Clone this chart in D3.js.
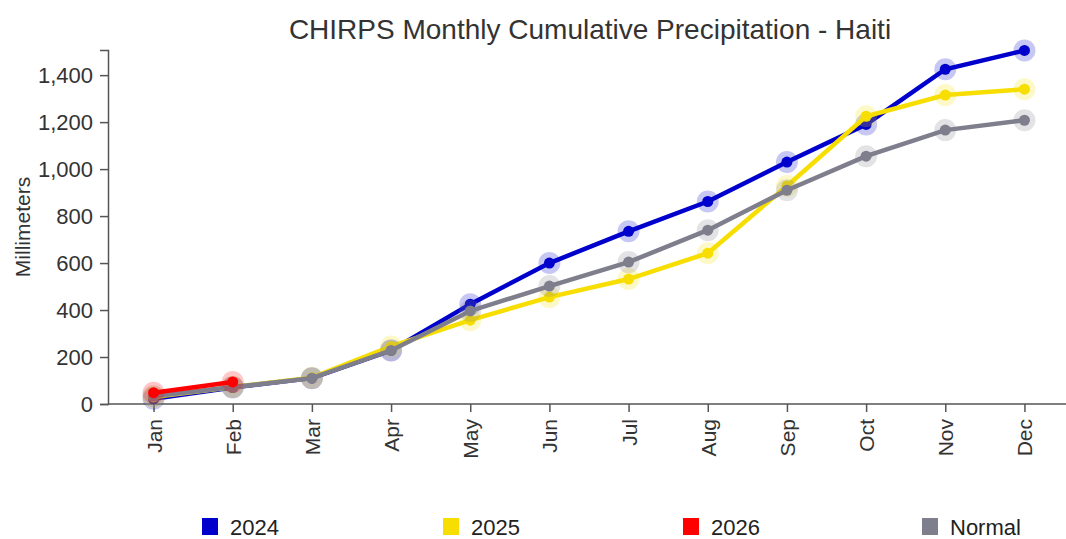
<!DOCTYPE html>
<html><head><meta charset="utf-8">
<script src="https://cdn.jsdelivr.net/npm/d3@7"></script>
<style>body{margin:0;background:#fff;font-family:"Liberation Sans",Arial,sans-serif;}</style>
</head><body><svg id="c" width="1066" height="539"></svg>
<script>
const months = ["Jan","Feb","Mar","Apr","May","Jun","Jul","Aug","Sep","Oct","Nov","Dec"];
const yTicks = [0,200,400,600,800,1000,1200,1400];
const s2024 = [22,70,110,228,425,600,735,862,1030,1190,1425,1505];
const s2025 = [30,72,112,245,357,455,532,642,928,1225,1315,1340];
const s2026 = [48,94];
const sNormal = [33,72,110,228,396,502,604,740,910,1055,1166,1208];
const seriesNames = ["2024","2025","2026","Normal"];
const seriesColors = ["#0000cc","#f7de00","#ff0000","#7e7e8c"];
const seriesData = [s2024,s2025,s2026,sNormal];
const drawOrder = [0,1,3,2];

const FONT = "Liberation Sans, Arial, sans-serif";
const svg = d3.select("#c");
const x = d3.scalePoint().domain(months).range([110,1068]).padding(0.55);
const y = d3.scaleLinear().domain([0,1507]).range([404,50]);

svg.append("text").attr("x",590).attr("y",39).attr("text-anchor","middle")
  .attr("font-size",28).attr("fill","#333").text("CHIRPS Monthly Cumulative Precipitation - Haiti");

const ya = svg.append("g").attr("transform","translate(108,0)")
  .call(d3.axisLeft(y).tickValues(yTicks).tickFormat(d3.format(",")).tickSizeOuter(7).tickSize(8).tickPadding(7));
ya.selectAll("text").attr("font-size",22).attr("fill","#333").attr("font-family",FONT).attr("dy","0.35em");
ya.selectAll("path,line").attr("stroke","#555").attr("stroke-width",1.5);

const xa = svg.append("g").attr("transform","translate(0,404)")
  .call(d3.axisBottom(x).tickSize(8).tickSizeOuter(0));
xa.select("path").attr("d","M108,0H1066");
xa.selectAll("path,line").attr("stroke","#555").attr("stroke-width",1.5);
xa.selectAll("text").attr("font-size",21).attr("fill","#333").attr("font-family",FONT)
  .attr("transform","rotate(-90)").attr("text-anchor","end").attr("dx",0).attr("dy",0).attr("x",-15).attr("y",0)
  .style("dominant-baseline","central");

svg.append("text").attr("transform","translate(30,227) rotate(-90)").attr("text-anchor","middle")
  .attr("font-size",21).attr("fill","#333").text("Millimeters");

const line = d3.line().x((d,i)=>x(months[i])).y(d=>y(d));
drawOrder.forEach(k=>{
  const data = seriesData[k], col = seriesColors[k];
  const g = svg.append("g");
  g.append("path").datum(data).attr("d",line).attr("fill","none").attr("stroke",col).attr("stroke-width",4.5);
  g.selectAll("circle.h").data(data).join("circle").attr("cx",(d,i)=>x(months[i])).attr("cy",d=>y(d))
    .attr("r",11).attr("fill",col).attr("opacity",0.22);
  g.selectAll("circle.p").data(data).join("circle").attr("cx",(d,i)=>x(months[i])).attr("cy",d=>y(d))
    .attr("r",5.5).attr("fill",col);
});

const legX = [202,443,683,922];
seriesNames.forEach((n,i)=>{
  svg.append("rect").attr("x",legX[i]).attr("y",518).attr("width",16).attr("height",17).attr("fill",seriesColors[i]);
  svg.append("text").attr("x",legX[i]+28).attr("y",535).attr("font-size",22).attr("fill","#222").text(n);
});
</script></body></html>
